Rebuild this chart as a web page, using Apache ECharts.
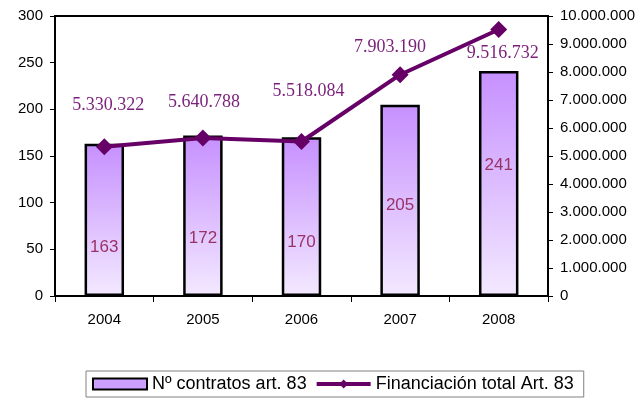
<!DOCTYPE html>
<html><head><meta charset="utf-8">
<script src="https://cdn.jsdelivr.net/npm/echarts@6/dist/echarts.min.js"></script>
<style>html,body{margin:0;padding:0;background:#fff}#c{width:641px;height:400px}</style>
</head><body><div id="c"></div>
<script>
var categories = ['2004', '2005', '2006', '2007', '2008'];
var contratos = [163, 172, 170, 205, 241];
var financiacion = [5330322, 5640788, 5518084, 7903190, 9516732];
var barLabelDist = [40, 49, 45, 82, 122];
var lineLabelOffset = [[4, -41], [1, -36], [7, -50], [-10, -27], [4, 24]];

function fmt(v) {
  return String(Math.round(v)).replace(/\B(?=(\d{3})+(?!\d))/g, '.');
}

var chart = echarts.init(document.getElementById('c'), null, {renderer: 'canvas'});
chart.setOption({
  animation: false,
  backgroundColor: '#fff',
  grid: {left: 55, right: 93, top: 16, bottom: 104, show: true, borderColor: '#000', borderWidth: 2, containLabel: false},
  legend: {
    left: 86, top: 371,
    padding: [4, 10, 4, 6],
    itemGap: 8,
    itemWidth: 54, itemHeight: 11,
    borderColor: '#808080', borderWidth: 1,
    textStyle: {fontFamily: 'Liberation Sans, Arial', fontSize: 18, color: '#000'},
    data: [
      {name: 'Nº contratos art. 83', icon: 'rect', itemStyle: {color: '#cba0ff', borderColor: '#000', borderWidth: 2}},
      {name: 'Financiación total Art. 83', itemStyle: {color: '#660066'}, lineStyle: {color: '#660066', width: 4}}
    ]
  },
  xAxis: {
    type: 'category', data: categories, boundaryGap: true,
    axisLine: {lineStyle: {color: '#000', width: 2}},
    axisTick: {show: true, length: 6, lineStyle: {color: '#000', width: 1}},
    axisLabel: {color: '#000', fontFamily: 'Liberation Sans, Arial', fontSize: 15, margin: 16}
  },
  yAxis: [
    {
      type: 'value', min: 0, max: 300, interval: 50,
      axisLine: {show: true, lineStyle: {color: '#000', width: 2}},
      axisTick: {show: true, length: 5, lineStyle: {color: '#000'}},
      splitLine: {show: false},
      axisLabel: {color: '#000', fontFamily: 'Liberation Sans, Arial', fontSize: 15, margin: 12}
    },
    {
      type: 'value', min: 0, max: 10000000, interval: 1000000,
      axisLine: {show: true, lineStyle: {color: '#000', width: 2}},
      axisTick: {show: true, length: 5, lineStyle: {color: '#000'}},
      splitLine: {show: false},
      axisLabel: {color: '#000', fontFamily: 'Liberation Sans, Arial', fontSize: 15, margin: 12, formatter: fmt}
    }
  ],
  series: [
    {
      name: 'Nº contratos art. 83', type: 'bar', yAxisIndex: 0, barWidth: '40%',
      itemStyle: {
        borderColor: '#000', borderWidth: 2.5,
        color: new echarts.graphic.LinearGradient(0, 0, 0, 1, [
          {offset: 0, color: '#c690ff'},
          {offset: 1, color: '#f3e9ff'}
        ])
      },
      data: contratos.map(function (v, i) {
        return {value: v, label: {show: true, position: 'insideBottom', distance: barLabelDist[i]}};
      }),
      label: {color: '#993366', fontFamily: 'Liberation Sans, Arial', fontSize: 17},
      z: 2
    },
    {
      name: 'Financiación total Art. 83', type: 'line', yAxisIndex: 1,
      symbol: 'diamond', symbolSize: 17,
      lineStyle: {color: '#660066', width: 4},
      itemStyle: {color: '#660066'},
      data: financiacion.map(function (v, i) {
        return {value: v, label: {show: true, position: 'inside', offset: lineLabelOffset[i]}};
      }),
      label: {color: '#7a1f7a', fontFamily: 'Liberation Serif, Times New Roman', fontSize: 18, formatter: function (p) { return fmt(p.value); }},
      z: 5
    }
  ]
});
</script>
</body></html>
